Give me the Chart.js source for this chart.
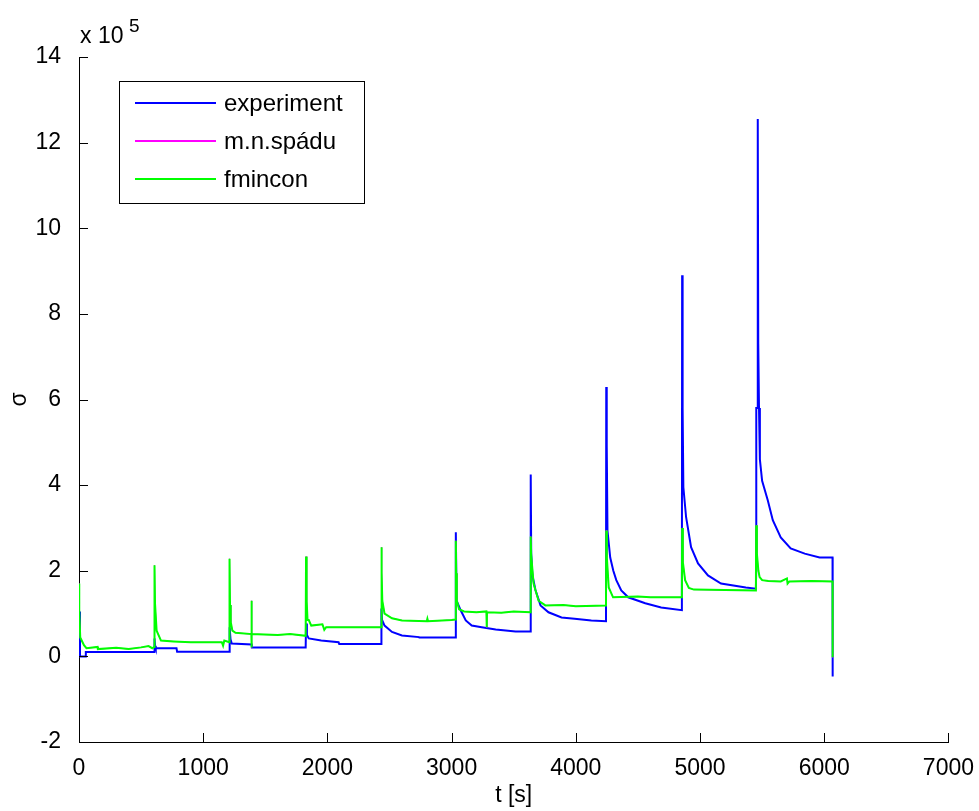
<!DOCTYPE html>
<html>
<head>
<meta charset="utf-8">
<script src="https://cdn.jsdelivr.net/npm/chart.js@4.4.1/dist/chart.umd.min.js"></script>
<style>
  body { margin: 0; background: #fff; }
</style>
</head>
<body>
<canvas id="sigmaChart" width="979" height="811"></canvas>
<script>
// values in units of 10^5 (the axis shows "x 10^5")
var expT = [0, 8, 50, 55, 605,
  608, 612, 618, 625, 785, 790, 1210,
  1212, 1214, 1220, 1230, 1390, 1392, 1825,
  1828, 1835, 1850, 1950, 2090, 2095, 2432,
  2435, 2440, 2460, 2520, 2600, 2737, 2740, 3032,
  3034, 3040, 3074, 3114, 3162, 3242, 3355, 3515, 3635,
  3637, 3641, 3650, 3675, 3716, 3780, 3885, 3990, 4125, 4243,
  4245, 4249, 4255, 4277, 4302, 4326, 4366, 4422, 4559, 4687, 4854,
  4856, 4860, 4866, 4888, 4928, 4984, 5064, 5169, 5369, 5450,
  5452, 5453, 5463, 5465, 5469, 5475, 5482, 5500, 5546, 5586, 5650, 5730, 5843, 5963, 6067, 6068];
var expV = [1.05, 0.0, 0.0, 0.1, 0.1,
  0.42, 0.25, 0.19, 0.19, 0.19, 0.11, 0.11,
  0.11, 0.68, 0.4, 0.3, 0.28, 0.21, 0.21,
  0.77, 0.5, 0.42, 0.37, 0.33, 0.29, 0.29,
  1.12, 0.85, 0.72, 0.57, 0.49, 0.45, 0.44, 0.44,
  2.9, 1.3, 1.07, 0.84, 0.72, 0.68, 0.63, 0.58, 0.58,
  4.25, 2.4, 1.9, 1.55, 1.19, 1.03, 0.91, 0.88, 0.84, 0.82,
  6.29, 4.93, 2.94, 2.31, 2.0, 1.78, 1.54, 1.38, 1.24, 1.14, 1.08,
  8.9, 5.79, 3.95, 3.25, 2.55, 2.17, 1.89, 1.7, 1.61, 1.58,
  2.0, 5.8, 5.8, 12.55, 7.3, 5.8, 4.6, 4.1, 3.64, 3.18, 2.78, 2.52, 2.4, 2.31, 2.31, -0.47];

var fminT = [0, 2, 10, 40, 60, 150, 152, 300, 400, 500, 560, 590, 605,
  608, 612, 625, 660, 760, 900, 1150, 1160, 1170, 1210,
  1212, 1216, 1222, 1235, 1260, 1388, 1389, 1390, 1391, 1600, 1700, 1825,
  1828, 1833, 1840, 1850, 1870, 1960, 1975, 1990, 2432,
  2435, 2438, 2442, 2460, 2520, 2600, 2800, 2805, 2810, 3000, 3032,
  3034, 3037, 3042, 3060, 3100, 3200, 3280, 3283, 3285, 3400, 3500, 3635,
  3637, 3641, 3660, 3700, 3755, 3900, 4000, 4243,
  4245, 4250, 4265, 4300, 4500, 4600, 4854,
  4856, 4862, 4880, 4910, 4950, 5200, 5450,
  5452, 5458, 5470, 5480, 5500, 5550, 5650, 5700, 5705, 5720, 5900, 6067, 6068];
var fminV = [1.7, 1.07, 0.44, 0.26, 0.19, 0.22, 0.17, 0.2, 0.17, 0.21, 0.24, 0.19, 0.22,
  2.13, 1.24, 0.6, 0.37, 0.35, 0.33, 0.33, 0.25, 0.37, 0.33,
  2.28, 1.2, 0.8, 0.6, 0.55, 0.52, 1.3, 0.21, 0.52, 0.5, 0.52, 0.48,
  2.33, 1.3, 0.85, 0.85, 0.72, 0.75, 0.62, 0.68, 0.68,
  2.55, 1.96, 1.3, 1.0, 0.89, 0.84, 0.82, 0.88, 0.82, 0.85, 0.86,
  2.7, 1.94, 1.3, 1.1, 1.05, 1.03, 1.05, 0.68, 1.03, 1.02, 1.05, 1.03,
  2.8, 2.36, 1.7, 1.3, 1.19, 1.2, 1.17, 1.19,
  2.94, 2.31, 1.61, 1.38, 1.4, 1.38, 1.38,
  3.0, 2.2, 1.78, 1.6, 1.56, 1.55, 1.54,
  3.06, 2.4, 2.0, 1.85, 1.78, 1.76, 1.75, 1.82, 1.7, 1.75, 1.76, 1.75, -0.02];

// m.n.spadu lies under fmincon in the figure
var mnT = fminT;
var mnV = fminV;

var seriesLabels = ['experiment', 'm.n.spádu', 'fmincon'];
var xTicks = [0, 1000, 2000, 3000, 4000, 5000, 6000, 7000];
var yTicks = [-2, 0, 2, 4, 6, 8, 10, 12, 14];

var FONT = '"Liberation Sans", Arial, Helvetica, sans-serif';

function toPoints(t, v) {
  return t.map(function (x, i) { return {x: x, y: v[i]}; });
}

// inward ticks, legend box and the exponent note
var matlabPlugin = {
  id: 'matlabLook',
  afterDraw: function (chart) {
    var ctx = chart.ctx;
    var area = chart.chartArea;
    var xs = chart.scales.x, ys = chart.scales.y;
    ctx.save();
    ctx.strokeStyle = '#000';
    ctx.lineWidth = 1;
    ctx.beginPath();
    xTicks.forEach(function (v) {
      var px = Math.round(xs.getPixelForValue(v)) + 0.5;
      ctx.moveTo(px, area.bottom);
      ctx.lineTo(px, area.bottom - 9);
    });
    yTicks.forEach(function (v) {
      var py = Math.round(ys.getPixelForValue(v)) + 0.5;
      ctx.moveTo(area.left, py);
      ctx.lineTo(area.left + 9, py);
    });
    ctx.stroke();

    // legend
    ctx.fillStyle = '#fff';
    ctx.fillRect(119.5, 81.5, 245, 122);
    ctx.strokeRect(119.5, 81.5, 245, 122);
    ctx.font = '24px ' + FONT;
    ctx.textBaseline = 'middle';
    var rows = [103, 141, 179];
    seriesLabels.forEach(function (lbl, r) {
      var ds = chart.data.datasets.find(function (d) { return d.label === lbl; });
      ctx.strokeStyle = ds.borderColor;
      ctx.lineWidth = 2;
      ctx.beginPath();
      ctx.moveTo(135, rows[r]);
      ctx.lineTo(216, rows[r]);
      ctx.stroke();
      ctx.fillStyle = '#000';
      ctx.fillText(ds.label, 224, rows[r] + 1);
    });

    // x 10^5
    ctx.fillStyle = '#000';
    ctx.textBaseline = 'alphabetic';
    ctx.font = '23px ' + FONT;
    ctx.fillText('x 10', 80, 43);
    ctx.font = '19px ' + FONT;
    ctx.fillText('5', 129, 32);
    ctx.restore();
  }
};

var ctx = document.getElementById('sigmaChart');
var sigmaChart = new Chart(ctx, {
  type: 'line',
  data: {
    datasets: [{
        label: seriesLabels[0],
        data: toPoints(expT, expV),
        borderColor: 'rgb(0, 0, 255)',
        borderWidth: 2,
        order: 3
      },
      {
        label: seriesLabels[1],
        data: toPoints(mnT, mnV),
        borderColor: 'rgb(255, 0, 255)',
        borderWidth: 1,
        order: 2
      },
      {
        label: seriesLabels[2],
        data: toPoints(fminT, fminV),
        borderColor: 'rgb(0, 255, 0)',
        borderWidth: 2,
        order: 1
      }
    ]
  },
  options: {
    responsive: false,
    animation: false,
    devicePixelRatio: 1,
    layout: {
      padding: {top: 57, right: 28, left: 0, bottom: 0}
    },
    elements: {
      line: {tension: 0, fill: false},
      point: {radius: 0, hoverRadius: 0}
    },
    scales: {
      x: {
        type: 'linear',
        min: 0,
        max: 7000,
        afterFit: function (scale) { scale.height = 69; },
        afterBuildTicks: function (scale) {
          scale.ticks = xTicks.map(function (v) { return {value: v}; });
        },
        grid: {display: false},
        border: {display: true, color: '#000', width: 1},
        ticks: {
          color: '#000',
          padding: 5,
          maxRotation: 0,
          font: {family: FONT, size: 23},
          callback: function (v) { return String(v); }
        },
        title: {
          display: true,
          text: 't [s]',
          color: '#000',
          padding: {top: 0, bottom: 2},
          font: {family: FONT, size: 23}
        }
      },
      y: {
        type: 'linear',
        min: -2,
        max: 14,
        afterFit: function (scale) { scale.width = 79; },
        afterBuildTicks: function (scale) {
          scale.ticks = yTicks.map(function (v) { return {value: v}; });
        },
        grid: {display: false},
        border: {display: true, color: '#000', width: 1},
        ticks: {
          color: '#000',
          padding: 10,
          font: {family: FONT, size: 23},
          callback: function (v) { return String(v); }
        },
        title: {
          display: true,
          text: 'σ',
          color: '#000',
          padding: {top: 6, bottom: 0},
          font: {family: FONT, size: 23}
        }
      }
    },
    plugins: {
      legend: {display: false},
      tooltip: {enabled: false}
    }
  },
  plugins: [matlabPlugin]
});
</script>
</body>
</html>
